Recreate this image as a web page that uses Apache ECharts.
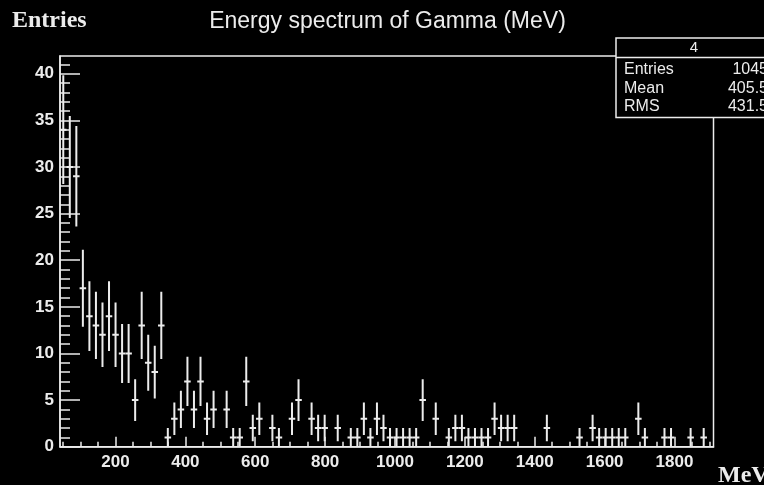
<!DOCTYPE html>
<html><head><meta charset="utf-8">
<script src="https://cdn.jsdelivr.net/npm/echarts@6/dist/echarts.min.js"></script>
<style>html,body{margin:0;padding:0;background:#000;}#c{width:764px;height:485px;}</style>
</head><body><div id="c"></div>
<script>
// ---- data ----
const xRange = [41.2, 1911.6];          // histogram range (MeV), 100 equal bins
const yRange = [0, 41.9];
const counts = [
  34,30,29,17,14,13,12,14,12,10,
  10,5,13,9,8,13,1,3,4,7,
  4,7,3,4,0,4,1,1,7,2,
  3,0,2,1,0,3,5,0,3,2,
  2,0,2,0,1,1,3,1,3,2,
  1,1,1,1,1,5,0,3,0,1,
  2,2,1,1,1,1,3,2,2,2,
  0,0,0,0,2,0,0,0,0,1,
  0,2,1,1,1,1,1,0,3,1,
  0,0,1,1,0,0,1,0,1,0
];
const xMajorTicks = [200,400,600,800,1000,1200,1400,1600,1800];
const xMinorTicks = [50,100,150,250,300,350,450,500,550,650,700,750,850,900,950,1050,1100,1150,1250,1300,1350,1450,1500,1550,1650,1700,1750,1850,1900];
const yMajorTicks = [0,5,10,15,20,25,30,35,40];
const yMinorTicks = [1,2,3,4,6,7,8,9,11,12,13,14,16,17,18,19,21,22,23,24,26,27,28,29,31,32,33,34,36,37,38,39,41];
const titleText = 'Energy spectrum of Gamma (MeV)';
const yTitle = 'Entries';
const xTitle = 'MeV';
const statsName = '4';
const statsLabels = ['Entries', 'Mean', 'RMS'];
const statsValues = ['1045', '405.5', '431.5'];

// ---- chart ----
const FG = '#ececec';
const sans = "'Liberation Sans', Arial, sans-serif";
const serif = "'Liberation Serif', 'Times New Roman', serif";
const nb = counts.length;
const bw = (xRange[1] - xRange[0]) / nb;
const seriesData = [];
counts.forEach((c, i) => {
  if (c > 0) {
    const lo = xRange[0] + i * bw;
    seriesData.push([lo + bw / 2, c, lo, lo + bw]);
  }
});

const chart = echarts.init(document.getElementById('c'), null, {renderer: 'canvas'});
const gridL = 60, gridT = 56, gridR = 50.5, gridB = 38.3;
const statY = [70, 88.5, 107];
const graphics = [
  {type: 'text', left: 12, top: 9, style: {text: yTitle, font: 'bold 24px ' + serif, fill: FG}},
  {type: 'text', x: 387.5, y: 22, style: {text: titleText, font: '23px ' + sans, fill: FG, textAlign: 'center', textVerticalAlign: 'middle'}},
  {type: 'text', x: 718, y: 476, style: {text: xTitle, font: 'bold 24px ' + serif, fill: FG, textVerticalAlign: 'middle'}},
  {type: 'rect', shape: {x: 616, y: 38, width: 170, height: 79.5}, style: {fill: '#000', stroke: FG, lineWidth: 1.5}, z: 100},
  {type: 'line', shape: {x1: 616, y1: 57.5, x2: 786, y2: 57.5}, style: {stroke: FG, lineWidth: 1.5}, z: 101},
  {type: 'text', x: 694, y: 48, style: {text: statsName, font: '15px ' + sans, fill: FG, textAlign: 'center', textVerticalAlign: 'middle'}, z: 102}
];
statsLabels.forEach((t, k) => {
  graphics.push({type: 'text', x: 624, y: statY[k], style: {text: t, font: '16px ' + sans, fill: FG, textVerticalAlign: 'middle'}, z: 102});
  graphics.push({type: 'text', x: 768, y: statY[k], style: {text: statsValues[k], font: '16px ' + sans, fill: FG, textAlign: 'right', textVerticalAlign: 'middle'}, z: 102});
});

const plain = v => String(v);
const axisCommon = {type: 'value', splitLine: {show: false}};
chart.setOption({
  backgroundColor: '#000',
  animation: false,
  grid: {left: gridL, top: gridT, right: gridR, bottom: gridB, show: true, borderColor: FG, borderWidth: 1.5, containLabel: false},
  xAxis: [
    Object.assign({}, axisCommon, {
      min: xRange[0], max: xRange[1], position: 'bottom',
      axisLine: {show: true, lineStyle: {color: FG, width: 1.5}},
      axisTick: {show: true, inside: true, length: 10, customValues: xMajorTicks, lineStyle: {color: FG, width: 1.5}},
      axisLabel: {show: true, customValues: xMajorTicks, formatter: plain, color: FG, fontFamily: sans, fontWeight: 'bold', fontSize: 17, margin: 7}
    }),
    Object.assign({}, axisCommon, {
      min: xRange[0], max: xRange[1], position: 'bottom',
      axisLine: {show: false},
      axisTick: {show: true, inside: true, length: 5, customValues: xMinorTicks, lineStyle: {color: FG, width: 1.5}},
      axisLabel: {show: false}
    })
  ],
  yAxis: [
    Object.assign({}, axisCommon, {
      min: yRange[0], max: yRange[1], position: 'left',
      axisLine: {show: true, lineStyle: {color: FG, width: 1.5}},
      axisTick: {show: true, inside: true, length: 20, customValues: yMajorTicks, lineStyle: {color: FG, width: 1.5}},
      axisLabel: {show: true, customValues: yMajorTicks, formatter: plain, color: FG, fontFamily: sans, fontWeight: 'bold', fontSize: 17, margin: 6}
    }),
    Object.assign({}, axisCommon, {
      min: yRange[0], max: yRange[1], position: 'left',
      axisLine: {show: false},
      axisTick: {show: true, inside: true, length: 10, customValues: yMinorTicks, lineStyle: {color: FG, width: 1.5}},
      axisLabel: {show: false}
    })
  ],
  series: [{
    type: 'custom',
    xAxisIndex: 0, yAxisIndex: 0,
    clip: true,
    data: seriesData,
    encode: {x: 0, y: 1},
    renderItem: function (params, api) {
      const mid = api.value(0), c = api.value(1), lo = api.value(2), hi = api.value(3);
      const e = Math.sqrt(c);
      const pL = api.coord([lo, c]), pR = api.coord([hi, c]);
      const pT = api.coord([mid, c + e]), pB = api.coord([mid, Math.max(c - e, 0)]);
      const st = {stroke: FG, lineWidth: 2};
      return {type: 'group', children: [
        {type: 'line', shape: {x1: pL[0], y1: pL[1], x2: pR[0], y2: pR[1]}, style: st},
        {type: 'line', shape: {x1: pT[0], y1: pT[1], x2: pB[0], y2: pB[1]}, style: st}
      ]};
    }
  }],
  graphic: graphics
});
</script>
</body></html>
